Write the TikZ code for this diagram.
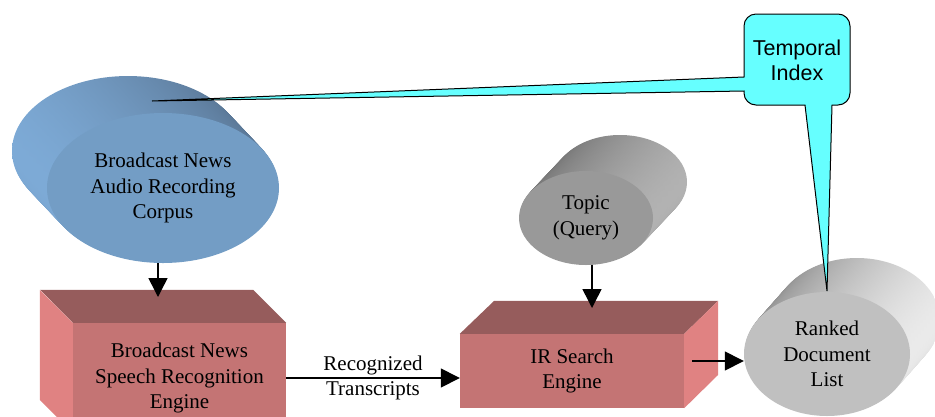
\documentclass[tikz,border=0pt]{standalone}
\usepackage{fontspec}
\setmainfont{Liberation Serif}
\newfontfamily\calloutfont{Liberation Sans}
\usetikzlibrary{arrows.meta,shapes.geometric,calc}
\definecolor{cblue}{RGB}{115,157,197}
\definecolor{cbluelt}{RGB}{125,170,214}
\definecolor{cbluedk}{RGB}{88,116,146}
\definecolor{pfront}{RGB}{196,116,116}
\definecolor{ptop}{RGB}{150,92,92}
\definecolor{pside}{RGB}{224,130,130}
\definecolor{tgrey}{RGB}{153,153,153}
\definecolor{rgrey}{RGB}{192,192,192}
\definecolor{tcyan}{RGB}{102,255,255}
\tikzset{
  lbl/.style={font=\fontsize{21}{25.5}\selectfont, align=center},
  cylfront/.style={ellipse, inner sep=0pt, lbl},
  boxfront/.style={rectangle, fill=pfront, inner sep=0pt, lbl},
  flow/.style={line width=1.5pt, -{Triangle[length=19pt,width=19pt]}},
}

\begin{document}
\begin{tikzpicture}[x=1pt,y=-1pt]
\useasboundingbox (0,0) rectangle (935,416);
\clip (0,0) rectangle (935,416);
\coordinate (c1) at (163,188);
\coordinate (c2) at (586,218);
\coordinate (c3) at (827,354);
\foreach \i [evaluate=\i as \f using \i/40] in {40,39,...,1}
  \path[left color=cbluelt, right color=cbluedk] ($(c1)+\f*(-35,-37)$) ellipse [x radius=116, y radius=75];
\foreach \i [evaluate=\i as \f using \i/40] in {40,39,...,1}
  \path[left color=black!55, right color=black!30] ($(c2)+\f*(34,-36)$) ellipse [x radius=67, y radius=47];
\foreach \i [evaluate=\i as \f using \i/40] in {40,39,...,1}
  \path[left color=black!45, right color=black!8] ($(c3)+\f*(30,-34)$) ellipse [x radius=83, y radius=62];
\node[cylfront, fill=cblue, minimum width=232pt, minimum height=150pt] (corpus) at (c1) {Broadcast News\\Audio Recording\\Corpus};
\node[cylfront, fill=tgrey, minimum width=134pt, minimum height=94pt] (topic) at (c2) {Topic\\(Query)};
\node[cylfront, fill=rgrey, minimum width=166pt, minimum height=124pt] (rdl) at (c3) {Ranked\\Document\\List};
\node[boxfront, minimum width=213pt, minimum height=110pt] (sre) at (179.5,378) {Broadcast News\\Speech Recognition\\Engine};
\fill[ptop] (sre.north west) -- (sre.north east) -- ++(-33,-33) -- ++(-213,0) -- cycle;
\fill[pside] (sre.north west) -- ++(-33,-33) -- ++(0,110) -- (sre.south west) -- cycle;
\node[boxfront, minimum width=224pt, minimum height=74pt] (irs) at (572,371) {IR Search\\Engine};
\fill[ptop] (irs.north west) -- (irs.north east) -- ++(34,-33) -- ++(-224,0) -- cycle;
\fill[pside] (irs.north east) -- ++(34,-33) -- ++(0,74) -- (irs.south east) -- cycle;
\coordinate (sretop) at (158,297);
\coordinate (irstop) at (592,308);
\coordinate (irsout) at (692,361);
\draw[flow] (corpus.south -| sretop) -- (sretop);
\draw[flow] (topic.south -| irstop) -- (irstop);
\draw[flow] (sre.east) -- node[lbl, fill=none] {Recognized\\Transcripts} (sre.east -| irs.west);
\draw[flow] (irsout) -- (rdl.west |- irsout);
\filldraw[fill=tcyan, draw=black, line width=1pt] (756,14) -- (838,14) arc[start angle=270, end angle=360, radius=12] -- (850,93) arc[start angle=0, end angle=90, radius=12] -- (832,105) -- (827,291) -- (805,105) -- (756,105) arc[start angle=90, end angle=180, radius=12] -- (744,91) -- (152,101) -- (744,77) -- (744,26) arc[start angle=180, end angle=270, radius=12] -- cycle;
\node[font=\calloutfont\fontsize{21.5}{25}\selectfont, align=center] (tidx) at (797,60) {Temporal\\Index};
\end{tikzpicture}
\end{document}
